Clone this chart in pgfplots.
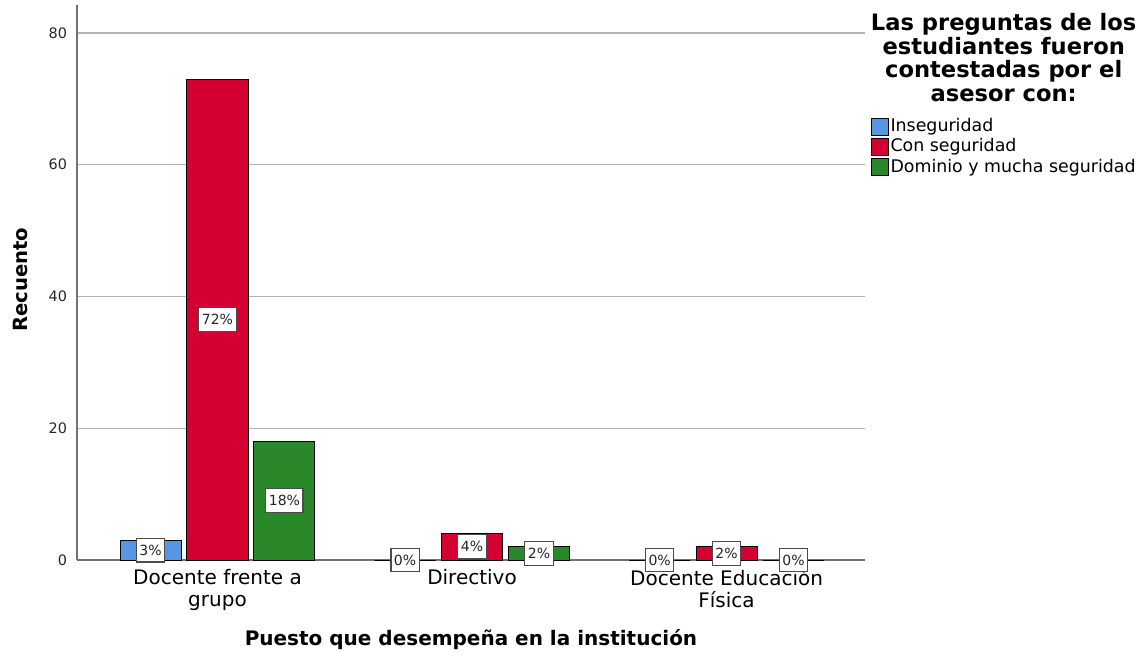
\documentclass[border=0pt]{standalone}
\usepackage{pgfplots}
\pgfplotsset{compat=1.18}
\usepackage{fontspec}
\setmainfont{DejaVu Sans}
\definecolor{cblue}{RGB}{88,150,228}
\definecolor{cred}{RGB}{213,0,50}
\definecolor{cgreen}{RGB}{42,135,42}
\begin{document}
\begin{tikzpicture}
\path[use as bounding box] (-38.5pt,-50pt) rectangle (533pt,280pt);
\begin{axis}[
  at={(0,0)}, anchor=south west,
  scale only axis, width=394pt, height=277.5pt,
  xmin=-0.552, xmax=2.544, ymin=0, ymax=84.25,
  clip=false,
  /pgf/number format/assume math mode=true,
  axis x line*=bottom, axis y line*=left,
  axis line style={draw=black!55, line width=0.6pt, -},
  ytick={0,20,40,60,80},
  xtick={0,1,2},
  xticklabels={{Docente frente a\\grupo},{Directivo},{Docente Educación\\Física}},
  xticklabel style={align=center, font=\fontsize{10}{11}\selectfont, yshift=-1pt},
  yticklabel style={font=\fontsize{7.2}{8}\selectfont, xshift=-1.5pt, text=black!85},
  major tick length=0pt,
  ymajorgrids, grid style={black!30, line width=0.6pt},
  xlabel={\textbf{Puesto que desempeña en la institución}},
  xlabel style={font=\fontsize{10}{12}\selectfont, at={(axis description cs:0.5,0)}, anchor=center, yshift=-40pt},
  ylabel={\textbf{Recuento}},
  ylabel style={font=\fontsize{9.8}{11}\selectfont, at={(axis description cs:-0.0713,0.505)}, anchor=center, rotate=0},
  legend style={at={(1.0065,0.80)}, anchor=north west, draw=none, fill=none,
    font=\fontsize{8.7}{10}\selectfont, row sep=0pt, inner sep=0pt,
    nodes={inner sep=1pt}, cells={anchor=west}},
  legend image code/.code={\draw[#1, draw=black, line width=0.5pt] (0pt,-4.25pt) rectangle (8.5pt,4.25pt);},
  every node near coord/.append style={draw=black!70, fill=white, line width=0.55pt,
    inner xsep=1.5pt, inner ysep=3.3pt, font=\fontsize{7}{8}\selectfont, text=black!85},
]
\addplot[ybar, bar width=0.24, bar shift=-0.263, fill=cblue, draw=black, line width=0.5pt]
  coordinates {(0,3) (1,0) (2,0)};
\addplot[ybar, bar width=0.24, bar shift=0, fill=cred, draw=black, line width=0.5pt]
  coordinates {(0,73) (1,4) (2,2)};
\addplot[ybar, bar width=0.24, bar shift=0.263, fill=cgreen, draw=black, line width=0.5pt]
  coordinates {(0,18) (1,2) (2,0)};
\legend{Inseguridad, Con seguridad, Dominio y mucha seguridad}
% value labels at half bar height
\addplot[only marks, mark=none, forget plot, nodes near coords, point meta=explicit symbolic,
  nodes near coords align={anchor=center}]
  coordinates {(-0.263,1.5)[3\%] (0.737,0)[0\%] (1.737,0)[0\%]};
\addplot[only marks, mark=none, forget plot, nodes near coords, point meta=explicit symbolic,
  nodes near coords align={anchor=center}]
  coordinates {(0,36.5)[72\%] (1,2)[4\%] (2,1)[2\%]};
\addplot[only marks, mark=none, forget plot, nodes near coords, point meta=explicit symbolic,
  nodes near coords align={anchor=center}]
  coordinates {(0.263,9)[18\%] (1.263,1)[2\%] (2.263,0)[0\%]};
\node[anchor=north, align=center, font=\bfseries\fontsize{11.3}{11.75}\selectfont]
  at (axis description cs:1.176,0.997) {Las preguntas de los\\estudiantes fueron\\contestadas por el\\asesor con:};
\end{axis}
\end{tikzpicture}
\end{document}
